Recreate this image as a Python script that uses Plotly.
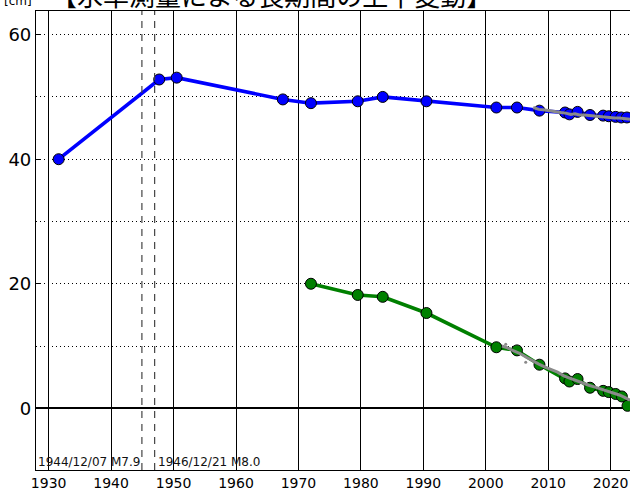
import plotly.graph_objects as go

# Leveling survey: long-term vertical movement of two benchmarks [cm]
years = [1931.6, 1947.7, 1950.5, 1967.5, 1972.0, 1979.5, 1983.5, 1990.5,
         2001.7, 2005.0, 2008.6, 2012.7, 2013.4, 2014.7, 2016.7, 2018.8,
         2019.7, 2020.8, 2021.7, 2022.6]
blue_vals = [40.0, 52.8, 53.1, 49.6, 49.0, 49.3, 50.0, 49.3,
             48.3, 48.3, 47.8, 47.5, 47.2, 47.6, 47.1, 47.0,
             46.9, 46.8, 46.7, 46.7]

green_years = [1972.0, 1979.5, 1983.5, 1990.5, 2001.7, 2005.0, 2008.6,
               2012.7, 2013.4, 2014.7, 2016.7, 2018.8, 2019.7, 2020.8,
               2021.8, 2022.7]
green_vals = [20.0, 18.2, 17.9, 15.3, 9.8, 9.3, 7.0,
              4.8, 4.3, 4.7, 3.3, 2.8, 2.6, 2.3,
              1.9, 0.4]

# Continuous (GNSS-derived) records drawn in grey
gray_blue_years = [2007.6, 2008.5, 2009.5, 2010.5, 2011.3, 2012.0, 2012.8,
                   2013.6, 2014.3, 2015.0, 2015.8, 2016.6, 2017.4, 2018.2,
                   2019.0, 2019.8, 2020.6, 2021.4, 2022.2, 2023.1]
gray_blue_vals = [48.3, 48.0, 47.9, 47.7, 47.6, 47.5, 47.4,
                  47.2, 47.3, 47.1, 47.1, 47.0, 46.9, 46.8,
                  46.8, 46.7, 46.6, 46.6, 46.5, 46.4]

gray_green_years = [2002.6, 2003.5, 2004.5, 2005.5, 2006.5, 2007.5, 2008.5,
                    2009.5, 2010.5, 2011.5, 2012.5, 2013.5, 2014.5, 2015.5,
                    2016.5, 2017.5, 2018.5, 2019.5, 2020.5, 2021.5, 2022.3,
                    2023.1]
gray_green_vals = [10.0, 9.7, 9.2, 8.8, 8.2, 7.6, 7.1,
                   6.6, 6.2, 5.8, 5.2, 4.8, 4.4, 4.0,
                   3.7, 3.4, 3.1, 2.8, 2.5, 2.1, 1.7,
                   1.3]
gray_dot_years = [2003.2, 2006.4]
gray_dot_vals = [10.3, 7.4]

# Earthquakes
quake_years = [1944.93, 1946.97]
quake_labels = ["1944/12/07 M7.9", "1946/12/21 M8.0"]

x_ticks = [1930, 1940, 1950, 1960, 1970, 1980, 1990, 2000, 2010, 2020]
y_ticks = [0, 20, 40, 60]

fig = go.Figure()

fig.add_trace(go.Scatter(
    x=years, y=blue_vals, mode="lines+markers",
    line=dict(color="#0000ff", width=3.6),
    marker=dict(size=11, color="#0000ff", line=dict(color="#000000", width=1)),
    showlegend=False))
fig.add_trace(go.Scatter(
    x=green_years, y=green_vals, mode="lines+markers",
    line=dict(color="#008000", width=3.6),
    marker=dict(size=11, color="#008000", line=dict(color="#000000", width=1)),
    showlegend=False))
fig.add_trace(go.Scatter(
    x=gray_blue_years, y=gray_blue_vals, mode="lines",
    line=dict(color="#8a8a8a", width=3), showlegend=False))
fig.add_trace(go.Scatter(
    x=gray_green_years, y=gray_green_vals, mode="lines",
    line=dict(color="#8a8a8a", width=3), showlegend=False))
fig.add_trace(go.Scatter(
    x=gray_dot_years, y=gray_dot_vals, mode="markers",
    marker=dict(color="#8a8a8a", size=3), showlegend=False))

# Dashed earthquake markers and their labels
for qx, lab, side in zip(quake_years, quake_labels, ["right", "left"]):
    fig.add_shape(type="line", xref="x", yref="paper", x0=qx, x1=qx, y0=0, y1=1,
                  line=dict(color="#444444", width=1.2, dash="7px,6px"))
    fig.add_annotation(x=qx, xref="x", y=-0.002, yref="paper",
                       text=lab, showarrow=False,
                       xanchor=side, yanchor="bottom",
                       xshift=0 if side == "right" else 1,
                       font=dict(family="DejaVu Sans", size=12, color="#111111"))

fig.add_annotation(x=(2 - 36) / 594, xref="paper", y=1 + 1 / 459, yref="paper",
                   text="[cm]", showarrow=False, xanchor="left", yanchor="bottom",
                   font=dict(family="DejaVu Sans", size=12, color="#000000"))
fig.add_annotation(x=(49 - 36) / 594, xref="paper", y=1 - 4 / 459, yref="paper",
                   text="【水準測量による長期間の上下変動】", showarrow=False,
                   xanchor="left", yanchor="bottom",
                   font=dict(family="Noto Sans CJK JP", size=26, color="#000000"))

fig.update_layout(
    width=630, height=492,
    margin=dict(l=36, r=0, t=11, b=22),
    paper_bgcolor="white", plot_bgcolor="white",
    font=dict(family="DejaVu Sans", color="#000000"),
    xaxis=dict(
        range=[1927.97, 2023.1], tickvals=x_ticks,
        ticktext=[str(v) for v in x_ticks],
        showgrid=True, gridcolor="#000000", gridwidth=1.3,
        showline=True, linecolor="#000000", linewidth=1.2, mirror=True,
        ticks="", tickfont=dict(size=14), zeroline=False),
    yaxis=dict(
        range=[-9.91, 63.8], tickvals=y_ticks,
        showgrid=True, gridcolor="#000000", gridwidth=1, griddash="1px,3px",
        minor=dict(dtick=10, tick0=0, showgrid=True, gridcolor="#000000",
                   gridwidth=1, griddash="1px,3px", ticks=""),
        zeroline=True, zerolinecolor="#000000", zerolinewidth=1.5,
        showline=True, linecolor="#000000", linewidth=1.2,
        ticks="inside", ticklen=4, tickcolor="#000000",
        tickfont=dict(size=18)),
)

fig.write_html("out.html")
